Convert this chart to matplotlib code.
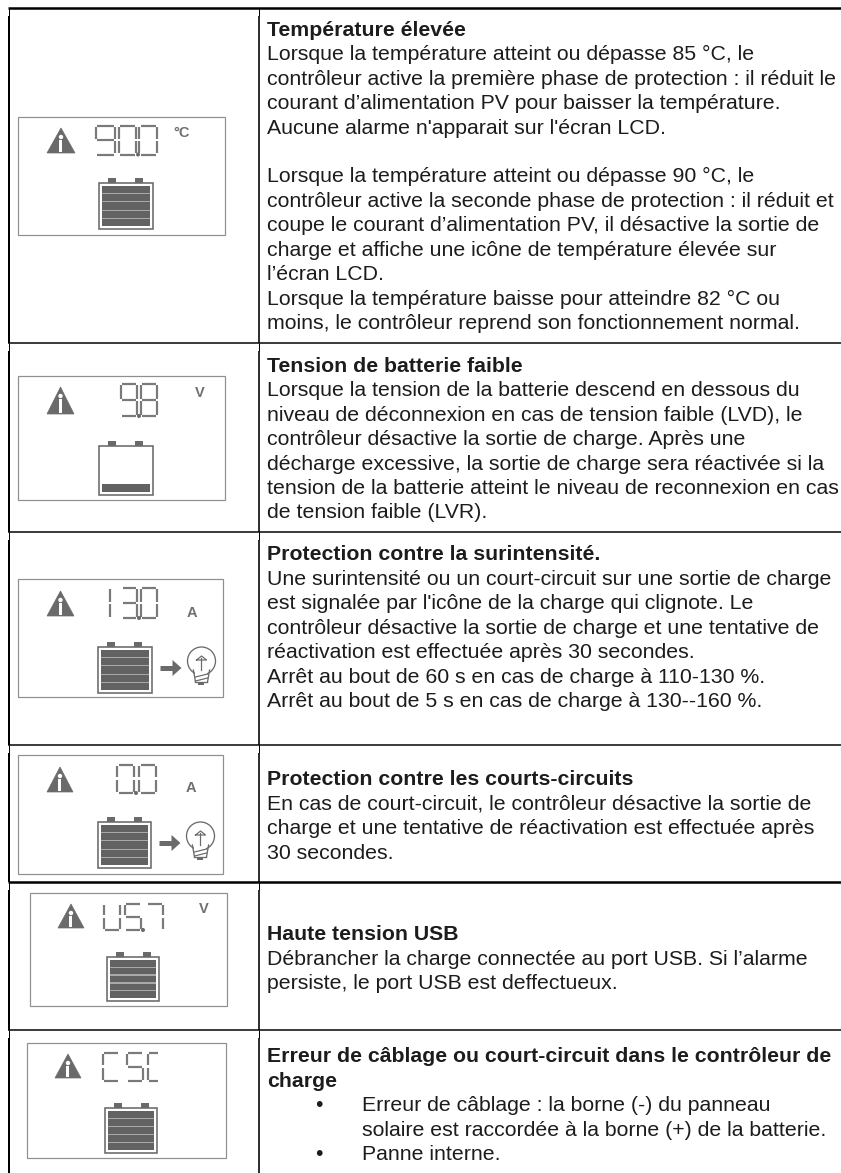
#!/usr/bin/env python3
"""
Page of a charge controller manual: alarm table, LCD sketch left, text right.
Everything is placed in image pixels (x right, y down).
"""

import matplotlib
matplotlib.use("Agg")
import matplotlib.pyplot as plt
from matplotlib.patches import Rectangle, Polygon, Circle

WIDTH, HEIGHT = 841, 1173
TEXT_FS = 15.35
INK = "#1c1c1c"
LCD = "#6a6a6a"
FRAME = "#8f8f8f"

# -- texts, one row of the table per block: (bold lines, normal lines)
ROW_HEADS = [
    ["Température élevée"],
    ["Tension de batterie faible"],
    ["Protection contre la surintensité."],
    ["Protection contre les courts-circuits"],
    ["Haute tension USB"],
    ["Erreur de câblage ou court-circuit dans le contrôleur de", "charge"],
]
ROW_LINES = [
    ["Lorsque la température atteint ou dépasse 85 °C, le",
     "contrôleur active la première phase de protection : il réduit le",
     "courant d’alimentation PV pour baisser la température.",
     "Aucune alarme n'apparait sur l'écran LCD.",
     "",
     "Lorsque la température atteint ou dépasse 90 °C, le",
     "contrôleur active la seconde phase de protection : il réduit et",
     "coupe le courant d’alimentation PV, il désactive la sortie de",
     "charge et affiche une icône de température élevée sur",
     "l’écran LCD.",
     "Lorsque la température baisse pour atteindre 82 °C ou",
     "moins, le contrôleur reprend son fonctionnement normal."],
    ["Lorsque la tension de la batterie descend en dessous du",
     "niveau de déconnexion en cas de tension faible (LVD), le",
     "contrôleur désactive la sortie de charge. Après une",
     "décharge excessive, la sortie de charge sera réactivée si la",
     "tension de la batterie atteint le niveau de reconnexion en cas",
     "de tension faible (LVR)."],
    ["Une surintensité ou un court-circuit sur une sortie de charge",
     "est signalée par l'icône de la charge qui clignote. Le",
     "contrôleur désactive la sortie de charge et une tentative de",
     "réactivation est effectuée après 30 secondes.",
     "Arrêt au bout de 60 s en cas de charge à 110-130 %.",
     "Arrêt au bout de 5 s en cas de charge à 130--160 %."],
    ["En cas de court-circuit, le contrôleur désactive la sortie de",
     "charge et une tentative de réactivation est effectuée après",
     "30 secondes."],
    ["Débrancher la charge connectée au port USB. Si l’alarme",
     "persiste, le port USB est deffectueux."],
    [],
]
BULLET_LINES = [
    ("•", "Erreur de câblage : la borne (-) du panneau"),
    ("", "solaire est raccordée à la borne (+) de la batterie."),
    ("•", "Panne interne."),
]

# -- LCD readouts
LCD_CHARS = ["90.0", "9.8", "13.0", "0.0", "U5.7", "CSC"]
LCD_UNITS = ["°C", "V", "A", "A", "V", ""]

# -- layout, px
ROW_Y = [7.5, 343, 531.5, 744.5, 882, 1030, 1173]
ROW_LW = [2.5, 1.5, 1.5, 1.5, 2.5, 1.5]
BASE_Y = [35.8, 371.8, 560.3, 785.3, 940.3, 1062.3]
LINE_STEP = 24.45
BOX = [(18, 116.5, 225, 234.5), (18, 375.5, 225, 500), (18, 579, 223.5, 697),
       (18, 755, 223, 874), (30, 893, 227.5, 1006), (27, 1043, 226.5, 1158)]
TRI = [(47, 128, 75, 153), (47, 387, 74, 414), (47, 591, 74, 616),
       (47, 767, 73, 792), (58, 904, 84, 928), (55, 1054, 81, 1078)]
DIGIT_X = [[96, 119, 139.5], [121, 141], [110, 121.5, 141], [117.5, 139.5],
           [104, 125, 146.5], [103, 127, 148]]
DIGIT_W = [[19, 17.5, 17.5], [16.5, 16.5], [0, 16, 16], [17, 17],
           [16.5, 16.5, 16.5], [16, 16.5, 11]]
DIGIT_Y = [(125.5, 154.5), (384, 416), (588, 618), (764.5, 793), (903.5, 930), (1052.5, 1081)]
UNIT_XY = [(182, 137), (200, 397), (192, 617), (191, 792), (204, 913), (0, 0)]
BATT = [(99, 183, 153, 229), (99, 446, 153, 495), (98, 647, 152.5, 693),
        (98, 822, 151.5, 868), (107, 957, 159, 1001), (105, 1108, 157, 1153)]
BATT_BARS = [5, 1, 5, 5, 5, 5]
BULB = [None, None, (201.5, 661), (200.5, 836), None, None]

SEGMENTS = {"0": "abcdef", "1": "bc", "3": "abcdg", "5": "acdfg", "7": "abc",
            "8": "abcdefg", "9": "abcdfg", "U": "bcdef", "S": "acdfg", "C": "adef"}

plt.rcParams["font.family"] = ["Liberation Sans", "DejaVu Sans"]

fig = plt.figure(figsize=(WIDTH / 100, HEIGHT / 100), dpi=100)
ax = fig.add_axes([0, 0, 1, 1])
ax.set_xlim(0, WIDTH)
ax.set_ylim(HEIGHT, 0)
ax.axis("off")


def px(w):
    return w * 72 / 100


def line(xs, ys, w, color="black"):
    ax.plot(xs, ys, color=color, lw=px(w), solid_capstyle="butt")


def digit(ch, x0, y0, w, h, has_dot):
    ym = (y0 + y0 + h) / 2
    x1 = x0 + w
    y1 = y0 + h
    g = 1.4
    segs = {
        "a": ([x0 + g, x1 - g], [y0, y0]),
        "b": ([x1, x1], [y0 + g, ym - g]),
        "c": ([x1, x1], [ym + g, y1 - g]),
        "d": ([x0 + g, x1 - g], [y1, y1]),
        "e": ([x0, x0], [ym + g, y1 - g]),
        "f": ([x0, x0], [y0 + g, ym - g]),
        "g": ([x0 + g, x1 - g], [ym, ym]),
    }
    for s in SEGMENTS[ch]:
        line(segs[s][0], segs[s][1], 2.2, "#7a7a7a")
    if has_dot:
        ax.add_patch(Circle((x1 + 1.5, y1), 1.3, color=LCD))


def triangle(x0, y0, x1, y1):
    xm = (x0 + x1) / 2
    ax.add_patch(Polygon([(xm, y0), (x1, y1), (x0, y1)], closed=True, fc=LCD, ec=LCD, lw=0.5))
    ax.add_patch(Rectangle((xm - 1.5, y0 + 12), 3, y1 - y0 - 13.5, fc="white", ec="none"))
    ax.add_patch(Circle((xm, y0 + 9), 1.5, color="white"))


def battery(x0, y0, x1, y1, n_bars):
    w = x1 - x0
    for tx in (x0 + 9, x0 + 36):
        ax.add_patch(Rectangle((tx, y0 - 5.5), 8.5, 5.5, fc=LCD, ec="none"))
    ax.add_patch(Rectangle((x0, y0), w, y1 - y0, fc="white", ec=LCD, lw=px(1.6)))
    bar_top = y0 + 3
    gap = 1.2
    bar_h = (y1 - y0 - 6 - 4 * gap) / 5
    for i in range(5):
        if i < 5 - n_bars:
            continue
        ax.add_patch(Rectangle((x0 + 3, bar_top + i * (bar_h + gap)), w - 6, bar_h,
                               fc="#626262", ec="none"))
        if n_bars > 1 and i < 4:
            ax.add_patch(Rectangle((x0 + 3, bar_top + i * (bar_h + gap) + bar_h), w - 6, gap,
                                   fc="#a8a8a8", ec="none"))


def bulb(cx, cy):
    # arrow from the battery to the lamp
    ax_y = cy + 7
    line([cx - 41.5, cx - 27], [ax_y, ax_y], 5, LCD)
    ax.add_patch(Polygon([(cx - 29, ax_y - 8), (cx - 20, ax_y), (cx - 29, ax_y + 8)],
                         closed=True, fc=LCD, ec="none"))
    # lamp outline, open at the neck
    ax.add_patch(Circle((cx, cy), 14, fc="white", ec=LCD, lw=px(1.3)))
    ax.add_patch(Rectangle((cx - 6, cy + 9), 12, 12, fc="white", ec="none", zorder=3))
    for sx in (-6, 6):
        ax.plot([cx + sx * 1.35, cx + sx], [cy + 9, cy + 21], color=LCD, lw=px(1.3), zorder=4)
    ax.plot([cx - 6, cx + 6], [cy + 21, cy + 21], color=LCD, lw=px(1.3), zorder=4)
    ax.plot([cx - 6, cx + 6], [cy + 16, cy + 13], color=LCD, lw=px(1.2), zorder=4)
    ax.plot([cx - 6, cx + 6], [cy + 20, cy + 17], color=LCD, lw=px(1.2), zorder=4)
    ax.add_patch(Rectangle((cx - 3, cy + 21), 6, 2.5, fc=LCD, ec="none", zorder=4))
    # small up arrow in the glass
    ax.plot([cx, cx], [cy - 3, cy + 9], color=LCD, lw=px(1.2), zorder=4)
    ax.plot([cx - 5, cx, cx + 5, cx - 5], [cy - 1, cy - 5, cy - 1, cy - 1], color=LCD, lw=px(1.2), zorder=4)


# table rules
for y, w in zip(ROW_Y[:-1], ROW_LW):
    line([8, WIDTH], [y, y], w)
for i in range(len(ROW_LW)):
    top, bottom = ROW_Y[i], ROW_Y[i + 1]
    # each row starts with a thin stub, then the heavier rule
    for x, w_stub, w_main in ((8.8, 1.0, 2.0), (258.6, 1.0, 1.6)):
        line([x, x], [top, top + 8], w_stub)
        line([x, x], [top + 8, bottom], w_main)

# right column text
for i in range(len(ROW_HEADS)):
    y = BASE_Y[i]
    for s in ROW_HEADS[i]:
        ax.text(267, y, s, fontsize=TEXT_FS, fontweight="bold", color=INK, va="baseline", ha="left")
        y += LINE_STEP
    for s in ROW_LINES[i]:
        if s:
            ax.text(267, y, s, fontsize=TEXT_FS, color=INK, va="baseline", ha="left")
        y += LINE_STEP
    if i == len(ROW_HEADS) - 1:
        for mark, s in BULLET_LINES:
            if mark:
                ax.text(319, y, mark, fontsize=TEXT_FS, color=INK, va="baseline", ha="center")
            ax.text(362.5, y, s, fontsize=TEXT_FS, color=INK, va="baseline", ha="left")
            y += LINE_STEP

# LCD sketches
for i, (x0, y0, x1, y1) in enumerate(BOX):
    ax.add_patch(Rectangle((x0, y0), x1 - x0, y1 - y0, fc="white", ec=FRAME, lw=px(1.2)))
    triangle(*TRI[i])
    chars = LCD_CHARS[i]
    dy0, dy1 = DIGIT_Y[i]
    k = 0
    for j, ch in enumerate(chars):
        if ch == ".":
            continue
        has_dot = j + 1 < len(chars) and chars[j + 1] == "."
        digit(ch, DIGIT_X[i][k], dy0, DIGIT_W[i][k], dy1 - dy0, has_dot)
        k += 1
    if LCD_UNITS[i]:
        ax.text(UNIT_XY[i][0], UNIT_XY[i][1], LCD_UNITS[i], fontsize=10.5, fontweight="bold",
                color="#707070", ha="center", va="baseline")
    bx0, by0, bx1, by1 = BATT[i]
    battery(bx0, by0, bx1, by1, BATT_BARS[i])
    if BULB[i]:
        bulb(*BULB[i])

fig.savefig("out.png", dpi=100)
plt.close(fig)
